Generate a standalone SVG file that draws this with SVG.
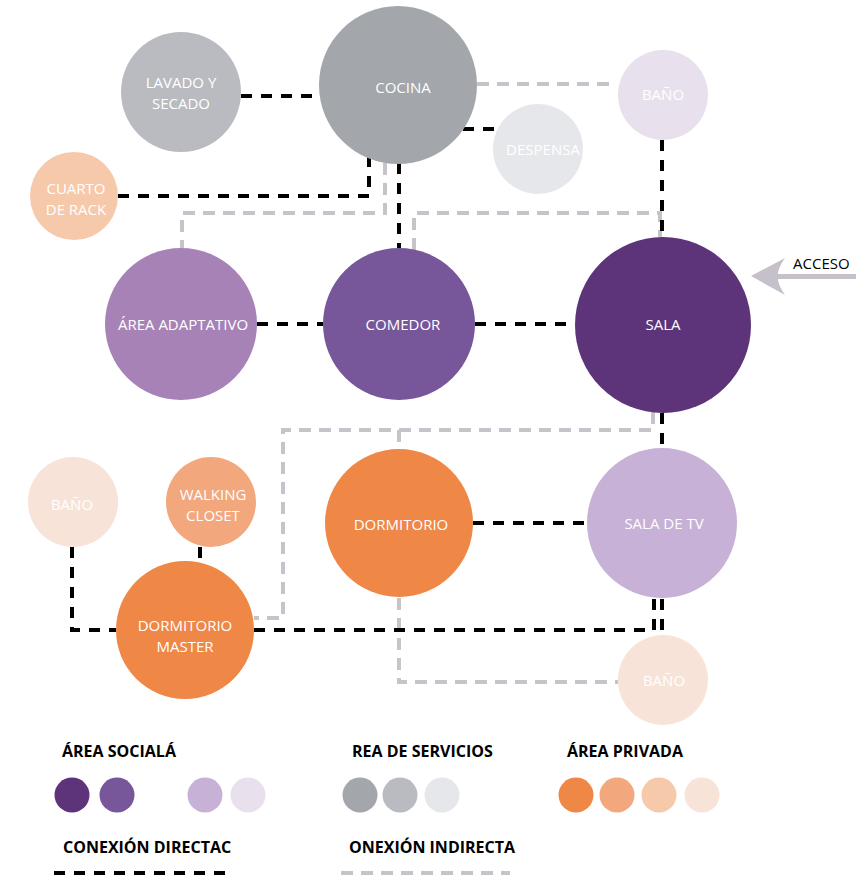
<svg xmlns="http://www.w3.org/2000/svg" width="856" height="875" viewBox="0 0 856 875">
<style>
.lbl{font-family:"Open Sans","Liberation Sans",sans-serif;font-size:15px;fill:#ffffff;text-anchor:middle}
.leg{font-family:"Open Sans","Liberation Sans",sans-serif;font-size:16px;font-weight:bold;fill:#000000}
.d{fill:none;stroke:#000000;stroke-width:4;stroke-dasharray:11 9}
.i{fill:none;stroke:#C8C3CB;stroke-width:4;stroke-dasharray:12 8}
</style>
<rect width="856" height="875" fill="#ffffff"/>
<g id="connectors">
  <!-- indirect (gray) -->
  <path class="i" d="M477 84 H617"/>
  <path class="i" d="M385 163 V213 H182 V248"/>
  <path class="i" d="M414 250 V213 H660 V237"/>
  <path class="i" d="M653 412 V430 H283 V618 H254"/>
  <path class="i" d="M399 430 V449"/>
  <path class="i" d="M399 598 V682 H618"/>
  <!-- direct (black) -->
  <path class="d" d="M241 96 H319"/>
  <path class="d" d="M463 129 H497"/>
  <path class="d" d="M118 196 H369 V157"/>
  <path class="d" d="M399 163 V248"/>
  <path class="d" d="M662 140 V237"/>
  <path class="d" d="M257 324 H323"/>
  <path class="d" d="M475 324 H575"/>
  <path class="d" d="M662 413 V448"/>
  <path class="d" d="M473 523 H587"/>
  <path class="d" d="M662 599 V634"/>
  <path class="d" d="M254 630 H654 V597"/>
  <path class="d" d="M72 547 V630 H116"/>
  <path class="d" d="M200 547 V562"/>
</g>
<g id="lavado"><circle cx="181" cy="92" r="60" fill="#B9BBC1"/><text class="lbl" x="181" y="88">LAVADO Y</text><text class="lbl" x="181" y="109">SECADO</text></g>
<g id="cocina"><circle cx="398" cy="85" r="79" fill="#A3A6AB"/><text class="lbl" x="403" y="93">COCINA</text></g>
<g id="bano-top"><circle cx="663" cy="95" r="45" fill="#E8E0EC"/><text class="lbl" x="663" y="100">BAÑO</text></g>
<g id="despensa"><circle cx="538" cy="149" r="45" fill="#E6E7EA"/><text class="lbl" x="543" y="155">DESPENSA</text></g>
<g id="cuarto-rack"><circle cx="74" cy="196" r="44" fill="#F6C9AB"/><text class="lbl" x="76" y="194">CUARTO</text><text class="lbl" x="76" y="215">DE RACK</text></g>
<g id="area-adaptativo"><circle cx="181" cy="324" r="76" fill="#A782B7"/><text class="lbl" x="183" y="330">ÁREA ADAPTATIVO</text></g>
<g id="comedor"><circle cx="399" cy="324" r="76" fill="#77569A"/><text class="lbl" x="403" y="330">COMEDOR</text></g>
<g id="sala"><circle cx="663" cy="325" r="88" fill="#5D3379"/><text class="lbl" x="663" y="330">SALA</text></g>
<g id="sala-tv"><circle cx="662" cy="523" r="75" fill="#C7B1D6"/><text class="lbl" x="664" y="529">SALA DE TV</text></g>
<g id="dormitorio"><circle cx="399" cy="523" r="74" fill="#EF8747"/><text class="lbl" x="401" y="530">DORMITORIO</text></g>
<g id="bano-left"><circle cx="73" cy="502" r="45" fill="#F7E3D7"/><text class="lbl" x="72" y="510">BAÑO</text></g>
<g id="walking-closet"><circle cx="211" cy="502" r="45" fill="#F2A77C"/><text class="lbl" x="213" y="500">WALKING</text><text class="lbl" x="213" y="521">CLOSET</text></g>
<g id="dormitorio-master"><circle cx="185" cy="630" r="69" fill="#EF8747"/><text class="lbl" x="185" y="631">DORMITORIO</text><text class="lbl" x="185" y="652">MASTER</text></g>
<g id="bano-bottom"><circle cx="663" cy="680" r="45" fill="#F7E3D7"/><text class="lbl" x="664" y="686">BAÑO</text></g>
<g id="acceso">
  <path d="M751 276 L785 258 Q778 268 778 274 L856 274 L856 279 L778 279 Q778 285 785 295 Z" fill="#C5C0C9"/>
  <text x="793" y="269" font-family="'Open Sans','Liberation Sans',sans-serif" font-size="15" fill="#000000">ACCESO</text>
</g>
<g id="legend">
  <text class="leg" x="62" y="757">ÁREA SOCIALÁ</text>
  <text class="leg" x="352" y="757">REA DE SERVICIOS</text>
  <text class="leg" x="567" y="757">ÁREA PRIVADA</text>
  <circle cx="72" cy="795" r="17.5" fill="#5D3379"/>
  <circle cx="117" cy="795" r="17.5" fill="#77569A"/>
  <circle cx="205" cy="795" r="17.5" fill="#C7B1D6"/>
  <circle cx="248" cy="795" r="17.5" fill="#E8E0EC"/>
  <circle cx="360" cy="795" r="17.5" fill="#A3A6AB"/>
  <circle cx="400" cy="795" r="17.5" fill="#B9BBC1"/>
  <circle cx="442" cy="795" r="17.5" fill="#E6E7EA"/>
  <circle cx="576" cy="795" r="17.5" fill="#EF8747"/>
  <circle cx="617" cy="795" r="17.5" fill="#F2A77C"/>
  <circle cx="659" cy="795" r="17.5" fill="#F6C9AB"/>
  <circle cx="702" cy="795" r="17.5" fill="#F7E3D7"/>
  <text class="leg" x="63" y="853">CONEXIÓN DIRECTAC</text>
  <text class="leg" x="349" y="853">ONEXIÓN INDIRECTA</text>
  <path class="d" d="M54 873 H230"/>
  <path class="i" d="M341 873 H510"/>
</g>
</svg>
